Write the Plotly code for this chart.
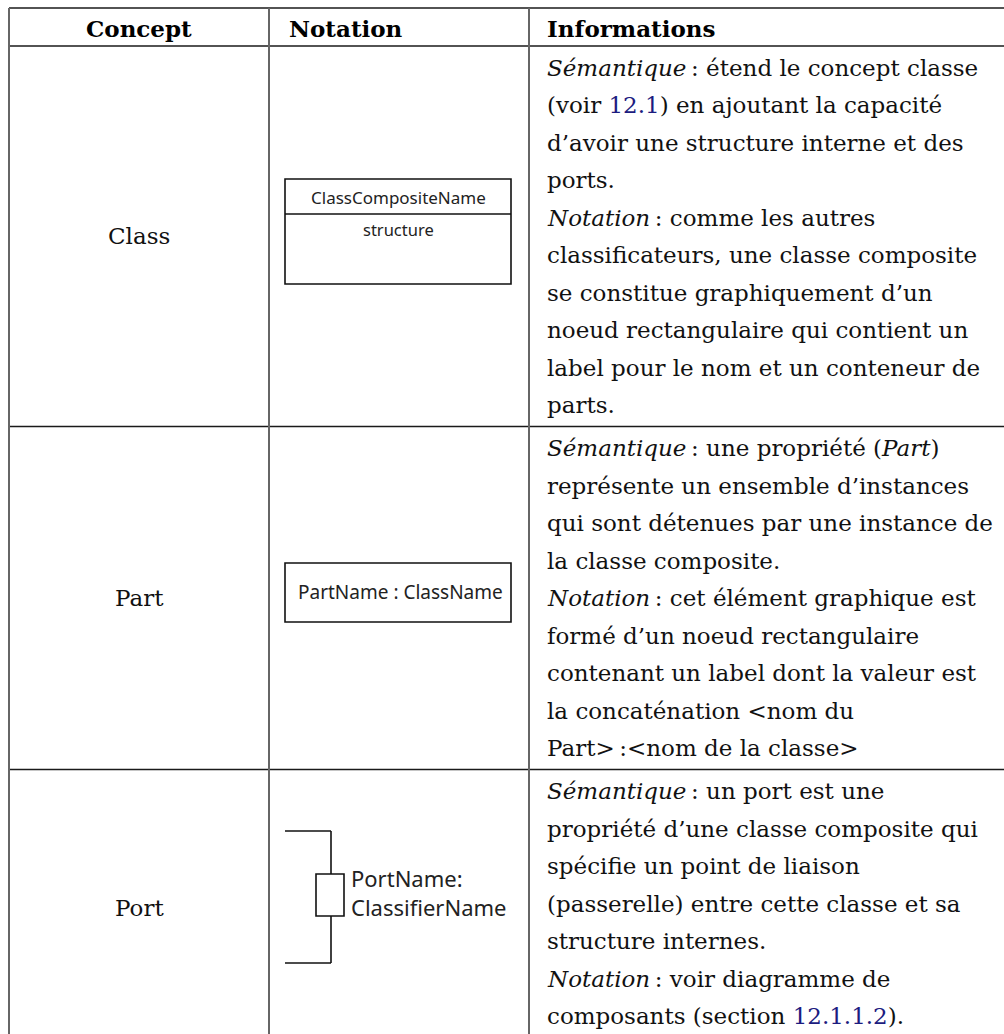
import plotly.graph_objects as go

# ---------------- data ----------------
headers = ["Concept", "Notation", "Informations"]
concepts = ["Class", "Part", "Port"]

class_box_labels = ["ClassCompositeName", "structure"]
part_box_label = "PartName : ClassName"
port_labels = ["PortName:", "ClassifierName"]

LINK = "#1c1c80"
def link(t):
    return f"<span style='color:{LINK}'>{t}</span>"

TS = "\u2009"  # thin space before colon
info_class = [
    f"<i>Sémantique</i>{TS}: étend le concept classe",
    f"(voir {link('12.1')}) en ajoutant la capacité",
    "d’avoir une structure interne et des",
    "ports.",
    f"<i>Notation</i>{TS}: comme les autres",
    "classificateurs, une classe composite",
    "se constitue graphiquement d’un",
    "noeud rectangulaire qui contient un",
    "label pour le nom et un conteneur de",
    "parts.",
]
info_part = [
    f"<i>Sémantique</i>{TS}: une propriété (<i>Part</i>)",
    "représente un ensemble d’instances",
    "qui sont détenues par une instance de",
    "la classe composite.",
    f"<i>Notation</i>{TS}: cet élément graphique est",
    "formé d’un noeud rectangulaire",
    "contenant un label dont la valeur est",
    "la concaténation &lt;nom du",
    f"Part&gt;{TS}:&lt;nom de la classe&gt;",
]
info_port = [
    f"<i>Sémantique</i>{TS}: un port est une",
    "propriété d’une classe composite qui",
    "spécifie un point de liaison",
    "(passerelle) entre cette classe et sa",
    "structure internes.",
    f"<i>Notation</i>{TS}: voir diagramme de",
    f"composants (section {link('12.1.1.2')}).",
]
infos = [info_class, info_part, info_port]

# ---------------- layout geometry ----------------
W, H = 1004, 1034
col_x = [9, 269, 529, 1007]
top, head_bot = 8, 46
line_h = 37.5
pad = 21.5
SERIF = "DejaVu Serif"
SANS = "Noto Sans"
FS = 23

row_y = [head_bot]
for lines in infos:
    row_y.append(row_y[-1] + 2 * pad + (len(lines) - 1) * line_h)

fig = go.Figure()
fig.add_trace(go.Scatter(x=[0, W], y=[0, H], mode="markers",
                         marker=dict(opacity=0), hoverinfo="skip", showlegend=False))

shapes = []
for y in [top, head_bot] + row_y[1:]:
    shapes.append(dict(type="line", x0=col_x[0], x1=col_x[-1], y0=y, y1=y,
                       line=dict(color="#1a1a1a", width=1.6)))
for x in col_x:
    shapes.append(dict(type="line", x0=x, x1=x, y0=top, y1=row_y[-1],
                       line=dict(color="#666666", width=2)))

ann = []
ann.append(dict(x=(col_x[0] + col_x[1]) / 2, y=28, text=f"<b>{headers[0]}</b>",
                xanchor="center", font=dict(family=SERIF, size=FS, color="#000")))
ann.append(dict(x=col_x[1] + 18, y=28, text=f"<b>{headers[1]}</b>",
                xanchor="left", font=dict(family=SERIF, size=FS, color="#000")))
ann.append(dict(x=col_x[2] + 16, y=28, text=f"<b>{headers[2]}</b>",
                xanchor="left", font=dict(family=SERIF, size=FS, color="#000")))

for i, (c, lines) in enumerate(zip(concepts, infos)):
    y0, y1 = row_y[i], row_y[i + 1]
    cy = (y0 + y1) / 2 if i < 2 else 908
    ann.append(dict(x=(col_x[0] + col_x[1]) / 2, y=cy, text=c, xanchor="center",
                    font=dict(family=SERIF, size=FS, color="#111")))
    for k, t in enumerate(lines):
        ann.append(dict(x=col_x[2] + 16, y=y0 + pad + k * line_h, text=t, xanchor="left",
                        font=dict(family=SERIF, size=FS, color="#111")))

# --- notation drawings ---
bx0, bx1 = 285, 511
shapes.append(dict(type="rect", x0=bx0, x1=bx1, y0=179, y1=284,
                   line=dict(color="#111", width=1.6)))
shapes.append(dict(type="line", x0=bx0, x1=bx1, y0=214, y1=214,
                   line=dict(color="#111", width=1.4)))
ann.append(dict(x=(bx0 + bx1) / 2, y=197, text=class_box_labels[0], xanchor="center",
                font=dict(family=SANS, size=17, color="#222")))
ann.append(dict(x=(bx0 + bx1) / 2, y=229, text=class_box_labels[1], xanchor="center",
                font=dict(family=SANS, size=16.5, color="#222")))
shapes.append(dict(type="rect", x0=bx0, x1=bx1, y0=563, y1=622,
                   line=dict(color="#111", width=1.6)))
ann.append(dict(x=(bx0 + bx1) / 2 + 2, y=592, text=part_box_label, xanchor="center",
                font=dict(family=SANS, size=19, color="#222")))
pc = dict(color="#111", width=1.6)
shapes.append(dict(type="line", x0=285, x1=331, y0=831, y1=831, line=pc))
shapes.append(dict(type="line", x0=331, x1=331, y0=831, y1=874, line=pc))
shapes.append(dict(type="rect", x0=316, x1=344, y0=874, y1=916, line=pc))
shapes.append(dict(type="line", x0=331, x1=331, y0=916, y1=963, line=pc))
shapes.append(dict(type="line", x0=285, x1=331, y0=963, y1=963, line=pc))
ann.append(dict(x=349, y=878, text=port_labels[0], xanchor="left",
                font=dict(family=SANS, size=22, color="#222")))
ann.append(dict(x=349, y=907, text=port_labels[1], xanchor="left",
                font=dict(family=SANS, size=22, color="#222")))

for a in ann:
    a.update(xref="x", yref="y", showarrow=False, yanchor="middle")

fig.update_layout(
    width=W, height=H, margin=dict(l=0, r=0, t=0, b=0),
    paper_bgcolor="white", plot_bgcolor="white",
    xaxis=dict(range=[0, W], visible=False, fixedrange=True),
    yaxis=dict(range=[H, 0], visible=False, fixedrange=True),
    shapes=shapes, annotations=ann, showlegend=False,
)
fig.write_html("out.html", config={"displayModeBar": False},
               post_script="document.body.style.margin='0';document.body.style.overflow='hidden';")
